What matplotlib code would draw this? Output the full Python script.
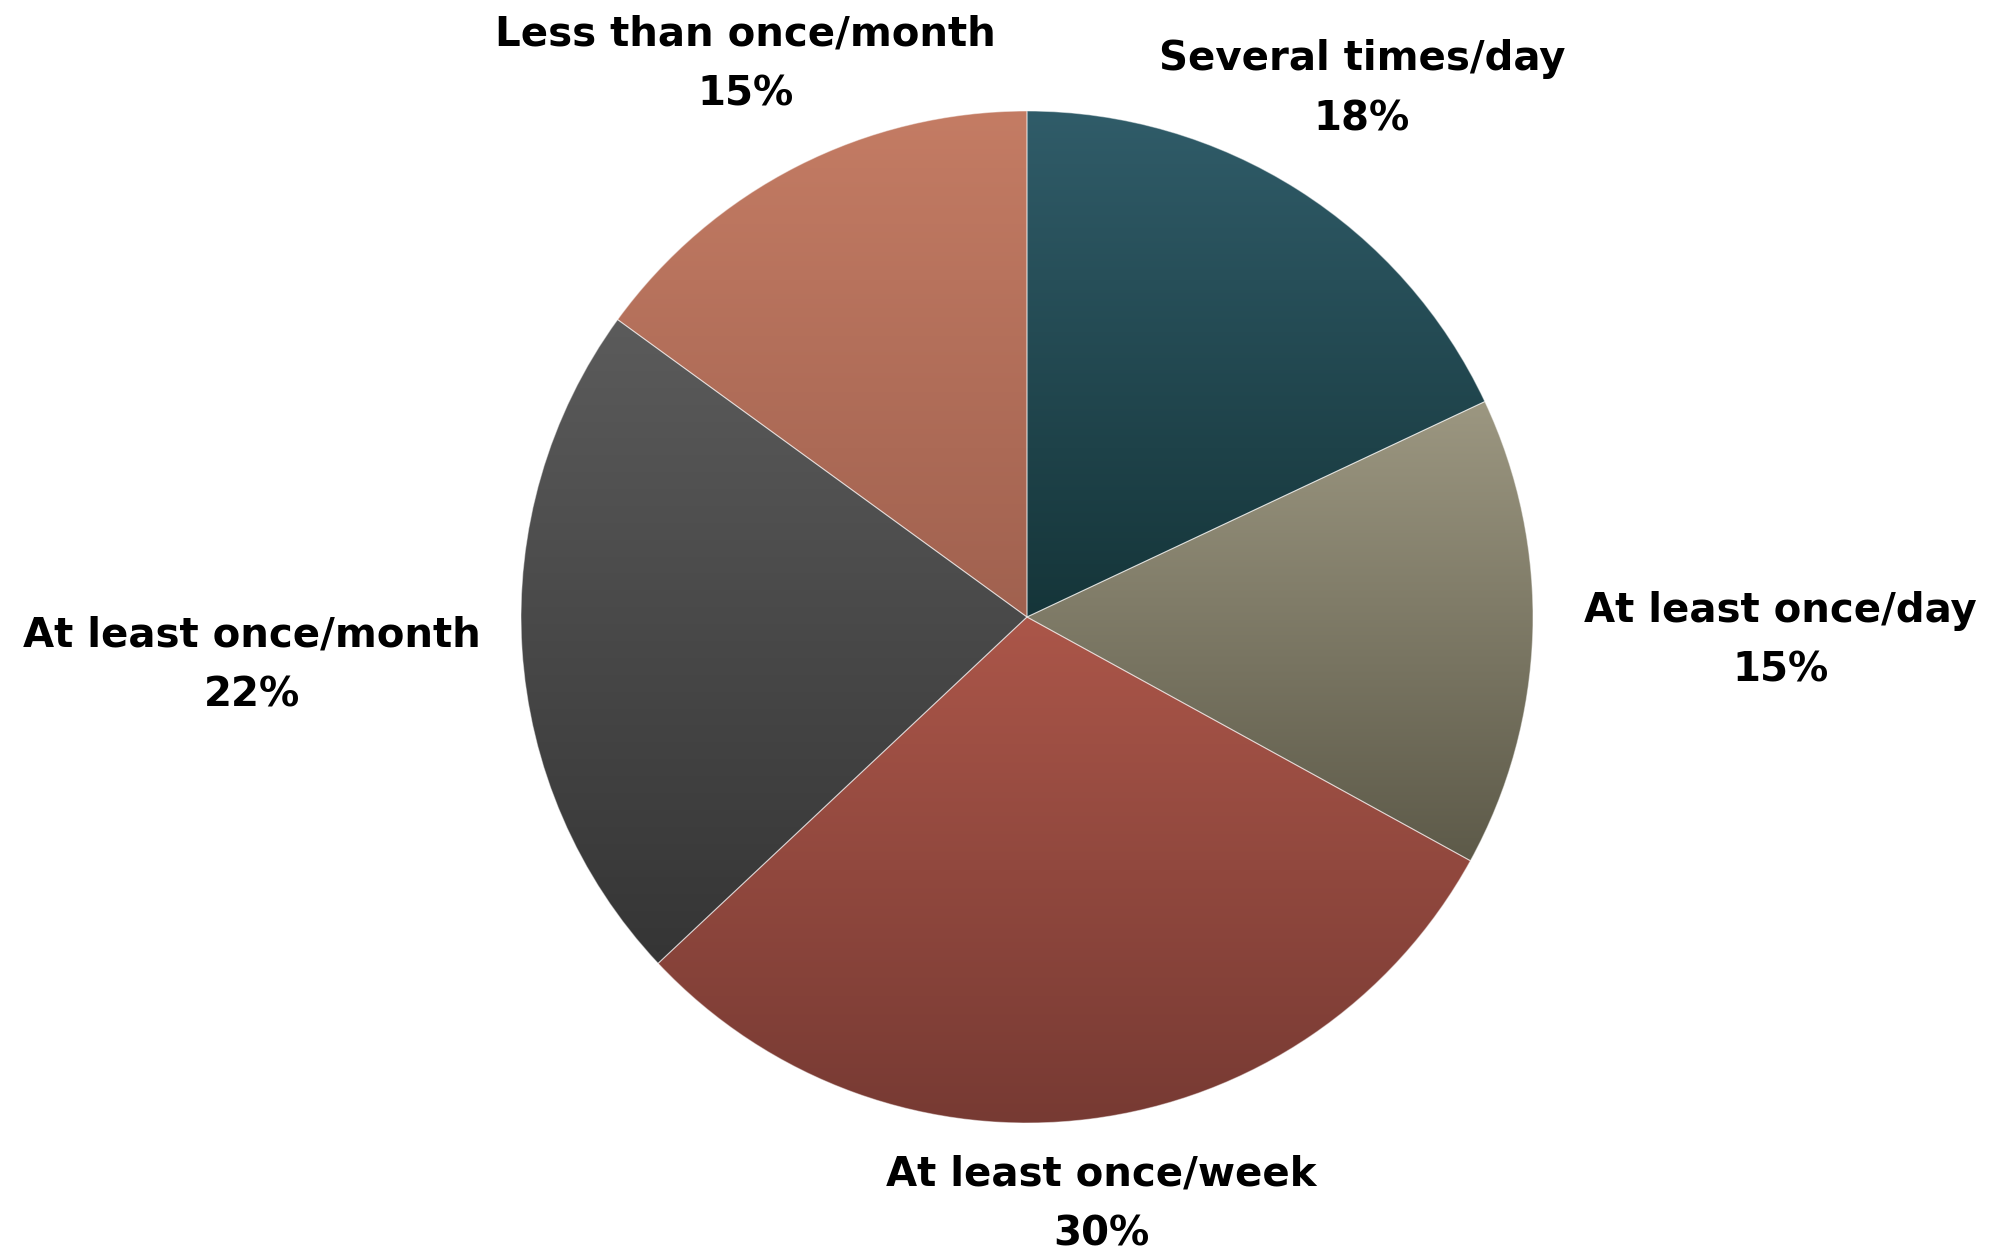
import numpy as np
import matplotlib.pyplot as plt
from matplotlib.colors import to_rgb

categories = [
    "Several times/day",
    "At least once/day",
    "At least once/week",
    "At least once/month",
    "Less than once/month",
]
shares = [18, 15, 30, 22, 15]

# top / bottom colours of each wedge's vertical gradient
top_colors = ["#305c69", "#9c9781", "#ab5649", "#5b5b5b", "#c47c64"]
bottom_colors = ["#153539", "#5d5a49", "#773a33", "#353535", "#a0614f"]

# label centre distance from pie centre (in radii)
label_dist = [1.235, 1.49, 1.17, 1.535, 1.225]

plt.rcParams["font.family"] = ["DejaVu Sans"]

fig = plt.figure(figsize=(20, 12.59), dpi=100)
ax = fig.add_axes([0, 0, 1, 1])

wedges, _ = ax.pie(
    shares,
    startangle=90,
    counterclock=False,
    radius=1.0,
    wedgeprops=dict(facecolor="none", edgecolor=(1, 1, 1, 0.45), linewidth=0.8),
)

for i, w in enumerate(wedges):
    w.set_zorder(3)
    bb = w.get_path().get_extents(w.get_patch_transform())
    c_top = np.array(to_rgb(top_colors[i]))
    c_bot = np.array(to_rgb(bottom_colors[i]))
    t = np.linspace(0, 1, 256)[:, None]
    grad = c_top[None, :] * (1 - t) + c_bot[None, :] * t
    img = ax.imshow(
        grad[:, None, :],
        extent=(bb.x0, bb.x1, bb.y0, bb.y1),
        origin="upper",
        aspect="auto",
        interpolation="bilinear",
        zorder=2,
    )
    img.set_clip_path(w)

    mid = np.deg2rad((w.theta1 + w.theta2) / 2)
    d = label_dist[i]
    ax.text(
        d * np.cos(mid),
        d * np.sin(mid),
        f"{categories[i]}\n{shares[i]}%",
        ha="center",
        va="center",
        fontsize=29,
        fontweight="bold",
        linespacing=1.65,
        color="black",
        zorder=4,
    )

# pie centre at (1027, 617) px, radius 506 px
r_px = 506.0
ax.set_xlim(-1027 / r_px, (2000 - 1027) / r_px)
ax.set_ylim(-(1259 - 617) / r_px, 617 / r_px)
ax.set_aspect("auto")
ax.axis("off")

fig.savefig("out.png", dpi=100, facecolor="white")
plt.close(fig)
